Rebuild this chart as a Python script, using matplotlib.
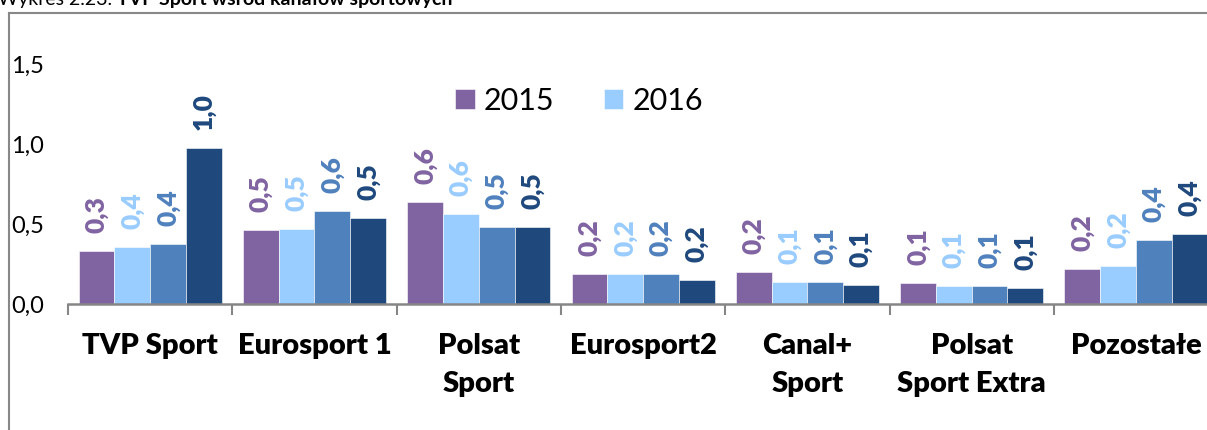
import numpy as np
import matplotlib
matplotlib.use('Agg')
import matplotlib.pyplot as plt
from matplotlib.lines import Line2D

plt.rcParams['font.family'] = ['Lato', 'DejaVu Sans']

# data
channels = ['TVP Sport', 'Eurosport 1', 'Polsat\nSport', 'Eurosport2',
            'Canal+\nSport', 'Polsat\nSport Extra', 'Pozostałe']
years = ['2015', '2016', '2017', '2018']
v2015 = [0.33, 0.46, 0.64, 0.19, 0.20, 0.13, 0.22]
v2016 = [0.355, 0.47, 0.56, 0.19, 0.14, 0.11, 0.24]
v2017 = [0.375, 0.58, 0.48, 0.19, 0.14, 0.11, 0.40]
v2018 = [0.975, 0.54, 0.48, 0.152, 0.12, 0.10, 0.44]
yticks = [0.0, 0.5, 1.0, 1.5]

colors = ['#8064A2', '#99CCFF', '#4F81BD', '#1F497D']
series = [v2015, v2016, v2017, v2018]

W, H = 1207, 430
fig = plt.figure(figsize=(W/100, H/100), dpi=100)
catw = 164.3
ax = fig.add_axes([68/W, (H-304)/H, 7*catw/W, 240/H])

x = np.arange(len(channels))
bw = 0.2176
bars = []
for i, (vals, c) in enumerate(zip(series, colors)):
    xs = x + (i - 1.5)*bw
    b = ax.bar(xs, vals, width=bw, color=c, edgecolor='white', linewidth=0.4, zorder=2)
    bars.append(b)
    for xx, v in zip(xs, vals):
        ax.annotate('{:.1f}'.format(v).replace('.', ','), (xx, v), xytext=(0, 13),
                    textcoords='offset points', rotation=90, ha='center', va='bottom',
                    fontsize=19, fontweight='heavy', color=c, annotation_clip=False)

ax.set_xlim(-0.5, 6.5)
ax.set_ylim(0, 1.5)
ax.set_yticks(yticks)
ax.set_yticklabels(['{:.1f}'.format(t).replace('.', ',') for t in yticks], fontsize=17)
ax.set_xticks(x)
ax.set_xticklabels(channels, fontsize=21, fontweight='heavy', linespacing=1.55)
ax.set_xticks(np.arange(-0.5, 7, 1), minor=True)
ax.tick_params(axis='x', which='major', length=0, pad=21)
ax.tick_params(axis='x', which='minor', length=8, width=1.5, color='#868686')
ax.tick_params(axis='y', length=0, pad=17)

for s in ['top', 'right', 'left']:
    ax.spines[s].set_visible(False)
ax.spines['bottom'].set_color('#868686')
ax.spines['bottom'].set_linewidth(1.8)
ax.spines['bottom'].set_zorder(3)

fig.legend([bars[0], bars[1]], years[:2], loc='center left',
           bbox_to_anchor=(455/W, (H-101)/H), ncol=2, frameon=False,
           fontsize=22, handlelength=0.65, handleheight=0.65,
           handletextpad=0.3, columnspacing=1.6, borderpad=0, borderaxespad=0)

# frame of the chart box (partly cut off)
fig.add_artist(Line2D([8.5/W, 8.5/W], [0, (H-13)/H], transform=fig.transFigure,
                      color='#888888', lw=1.5))
fig.add_artist(Line2D([8.5/W, 1], [(H-13)/H, (H-13)/H], transform=fig.transFigure,
                      color='#888888', lw=1.5))

# title, cut at the top like in the source
t1 = fig.text(-2/W, (H-5)/H, 'Wykres 2.23. ', fontsize=14, va='baseline')
r = fig.canvas.get_renderer()
bb = t1.get_window_extent(renderer=r)
fig.text(bb.x1/W, (H-5)/H, 'TVP Sport wśród kanałów sportowych', fontsize=14,
         fontweight='bold', va='baseline')

fig.savefig('out.png', dpi=100)
